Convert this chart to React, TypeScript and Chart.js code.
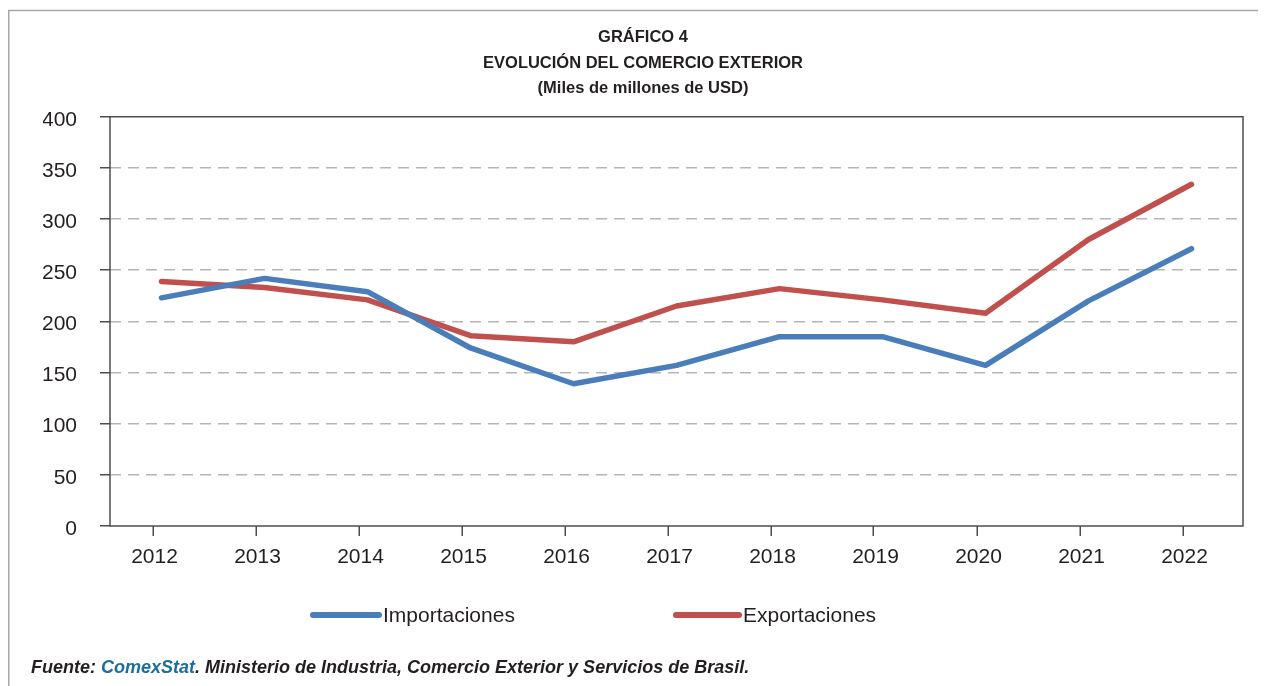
import React, { useEffect, useRef } from "react";
import { Chart, registerables } from "chart.js";

Chart.register(...registerables);

const years = ["2012", "2013", "2014", "2015", "2016", "2017", "2018", "2019", "2020", "2021", "2022"];
const importaciones = [223, 242, 229, 174, 139, 157, 185, 185, 157, 220, 271];
const exportaciones = [239, 233, 221, 186, 180, 215, 232, 221, 208, 280, 334];
const seriesNames = ["Importaciones", "Exportaciones"];
const seriesColors = ["#4a7ebb", "#c0504d"];
const titleLines = ["GRÁFICO 4", "EVOLUCIÓN DEL COMERCIO EXTERIOR", "(Miles de millones de USD)"];
const yMin = 0;
const yMax = 400;
const yStep = 50;

const W = 1258;
const H = 678;
const TEXT = "#231f20";
const SANS = "'Liberation Sans', Arial, Helvetica, sans-serif";

const decor = {
  id: "decor",
  beforeDraw(chart: any) {
    const ctx = chart.ctx;
    ctx.save();
    ctx.strokeStyle = "#a6a6a6";
    ctx.lineWidth = 1.5;
    ctx.beginPath();
    ctx.moveTo(0.75, chart.height);
    ctx.lineTo(0.75, 2.5);
    ctx.lineTo(chart.width, 2.5);
    ctx.stroke();
    ctx.restore();
  },
  afterDraw(chart: any) {
    const ctx = chart.ctx;
    const a = chart.chartArea;
    const xs = chart.scales.x;
    ctx.save();
    ctx.strokeStyle = "#4d4d4d";
    ctx.lineWidth = 1.5;
    ctx.strokeRect(a.left, a.top, a.right - a.left, a.bottom - a.top);
    ctx.beginPath();
    years.forEach((_, i) => {
      const x = Math.round(xs.getPixelForValue(i) - 9) + 0.25;
      ctx.moveTo(x, a.bottom);
      ctx.lineTo(x, a.bottom + 10);
    });
    ctx.stroke();

    // legend
    const legendY = 607;
    const items = [
      { x0: 305, x1: 371 },
      { x0: 668, x1: 731 },
    ];
    chart.data.datasets.forEach((ds: any, i: number) => {
      const it = items[i];
      ctx.strokeStyle = ds.borderColor;
      ctx.lineWidth = 6;
      ctx.lineCap = "round";
      ctx.beginPath();
      ctx.moveTo(it.x0, legendY);
      ctx.lineTo(it.x1, legendY);
      ctx.stroke();
      ctx.fillStyle = TEXT;
      ctx.font = "21px " + SANS;
      ctx.textAlign = "left";
      ctx.textBaseline = "middle";
      ctx.fillText(ds.label, it.x1 + 4, legendY + 1);
    });
    ctx.restore();
  },
};

export default function App() {
  const ref = useRef<HTMLCanvasElement>(null);

  useEffect(() => {
    if (!ref.current) return;
    const chart = new Chart(ref.current, {
      type: "line",
      data: {
        labels: years,
        datasets: [
          {
            label: seriesNames[0],
            data: importaciones,
            borderColor: seriesColors[0],
            backgroundColor: seriesColors[0],
            borderWidth: 5.5,
            pointRadius: 0,
            tension: 0,
            borderCapStyle: "round",
            borderJoinStyle: "round",
          },
          {
            label: seriesNames[1],
            data: exportaciones,
            borderColor: seriesColors[1],
            backgroundColor: seriesColors[1],
            borderWidth: 5.5,
            pointRadius: 0,
            tension: 0,
            borderCapStyle: "round",
            borderJoinStyle: "round",
          },
        ],
      },
      options: {
        responsive: false,
        animation: false,
        layout: { padding: { top: 0, right: 23, bottom: 110, left: 35 } },
        plugins: {
          legend: { display: false },
          tooltip: { enabled: false },
          title: {
            display: true,
            text: titleLines,
            color: TEXT,
            font: { family: SANS, size: 16.5, weight: "bold", lineHeight: 1.55 },
            padding: { top: 17, bottom: 15 },
          },
        },
        scales: {
          x: {
            type: "category",
            offset: true,
            grid: { display: false, drawTicks: false },
            border: { display: false },
            ticks: {
              color: TEXT,
              font: { family: SANS, size: 21 },
              padding: 19,
              labelOffset: -7,
              maxRotation: 0,
              autoSkip: false,
            },
            afterFit: (s: any) => {
              s.height = 50;
            },
          },
          y: {
            min: yMin,
            max: yMax,
            grid: {
              display: true,
              drawOnChartArea: true,
              drawTicks: true,
              tickLength: 10,
              tickColor: "#4d4d4d",
              tickWidth: 1.5,
              tickBorderDash: [],
              lineWidth: 1.5,
              color: (c: any) =>
                c.tick && (c.tick.value === yMin || c.tick.value === yMax) ? "rgba(0,0,0,0)" : "#b5b5b5",
            },
            border: { display: false, dash: [11, 7] },
            ticks: {
              stepSize: yStep,
              color: TEXT,
              font: { family: SANS, size: 21 },
              padding: 23,
              labelOffset: 3,
            },
            afterFit: (s: any) => {
              s.width = 67;
            },
          },
        },
      },
      plugins: [decor],
    });
    return () => chart.destroy();
  }, []);

  return (
    <div style={{ position: "relative", width: W, height: H }}>
      <canvas ref={ref} width={W} height={H} style={{ display: "block", width: W, height: H }} />
      <div
        style={{
          position: "absolute",
          left: 23,
          top: 648,
          fontFamily: SANS,
          fontSize: 18,
          lineHeight: "22px",
          fontWeight: "bold",
          fontStyle: "italic",
          color: TEXT,
          whiteSpace: "nowrap",
        }}
      >
        Fuente: <span style={{ color: "#1b6f9c" }}>ComexStat</span>. Ministerio de Industria, Comercio Exterior y Servicios de Brasil.
      </div>
    </div>
  );
}
